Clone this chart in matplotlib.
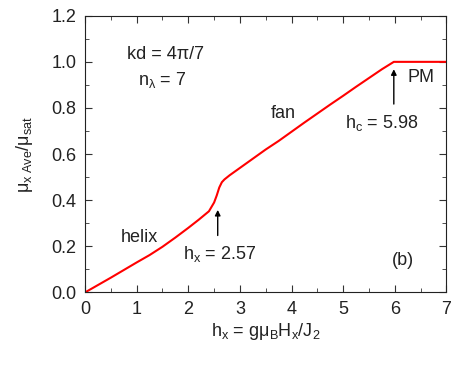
import matplotlib
matplotlib.use("Agg")
import matplotlib.pyplot as plt
from matplotlib.ticker import MultipleLocator, FormatStrFormatter

plt.rcParams['font.family'] = ['Liberation Sans', 'DejaVu Sans']
plt.rcParams['mathtext.fontset'] = 'custom'
plt.rcParams['mathtext.rm'] = 'Liberation Sans'
plt.rcParams['mathtext.it'] = 'Liberation Sans'
plt.rcParams['mathtext.sf'] = 'Liberation Sans'

# magnetization curve
h_field = [0, 0.25, 0.5, 0.75, 1.0, 1.25, 1.5, 1.75, 2.0, 2.2, 2.4, 2.5,
           2.55, 2.6, 2.65, 2.7, 2.8, 3.0, 3.25, 3.5, 3.75, 4.0, 4.25, 4.5,
           4.75, 5.0, 5.25, 5.5, 5.75, 5.98, 6.5, 7.0]
mu_ratio = [0.0, 0.032, 0.064, 0.097, 0.13, 0.162, 0.198, 0.238, 0.28, 0.315,
            0.352, 0.39, 0.42, 0.455, 0.478, 0.49, 0.508, 0.54, 0.58, 0.62,
            0.657, 0.697, 0.737, 0.776, 0.815, 0.853, 0.892, 0.93, 0.968, 1.0,
            1.0, 1.0]

fig = plt.figure(figsize=(4.57, 3.66), dpi=100)
ax = fig.add_axes([0.186, 0.201, 0.791, 0.756])

ax.plot(h_field, mu_ratio, color='red', lw=1.5)

ax.set_xlim(0, 7)
ax.set_ylim(0, 1.2)
ax.xaxis.set_major_locator(MultipleLocator(1))
ax.xaxis.set_minor_locator(MultipleLocator(0.5))
ax.yaxis.set_major_locator(MultipleLocator(0.2))
ax.yaxis.set_minor_locator(MultipleLocator(0.1))
ax.yaxis.set_major_formatter(FormatStrFormatter('%.1f'))
ax.tick_params(which='both', direction='in', top=True, right=True,
               labelsize=13, color='#333333', labelcolor='#222222')
ax.tick_params(which='major', length=5, pad=6)
ax.tick_params(which='minor', length=3)
for s in ax.spines.values():
    s.set_color('#222222')

ax.set_xlabel(r'$\mathrm{h_x}$ = g$\mathrm{\mu_B H_x/J_2}$', fontsize=13,
              color='#222222', labelpad=2)
ax.set_ylabel(r'$\mathrm{\mu_{x\ Ave}/\mu_{sat}}$', fontsize=13,
              color='#222222', labelpad=12)

txt = dict(fontsize=13, va='center', color='#222222')
ax.text(1.55, 1.03, 'kd = 4π/7', ha='center', **txt)
ax.text(1.5, 0.92, r'$\mathrm{n_\lambda}$ = 7', ha='center', **txt)
ax.text(1.06, 0.24, 'helix', ha='center', **txt)
ax.text(1.9, 0.165, r'$\mathrm{h_x}$ = 2.57', ha='left', **txt)
ax.text(3.84, 0.775, 'fan', ha='center', **txt)
ax.text(5.03, 0.735, r'$\mathrm{h_c}$ = 5.98', ha='left', **txt)
ax.text(6.51, 0.93, 'PM', ha='center', **txt)
ax.text(6.16, 0.14, '(b)', ha='center', **txt)

ax.annotate('', xy=(2.57, 0.37), xytext=(2.57, 0.235),
            arrowprops=dict(arrowstyle='-|>', color='black', lw=1, mutation_scale=8))
ax.annotate('', xy=(5.98, 0.98), xytext=(5.98, 0.805),
            arrowprops=dict(arrowstyle='-|>', color='black', lw=1, mutation_scale=8))

fig.savefig('out.png', dpi=100)
